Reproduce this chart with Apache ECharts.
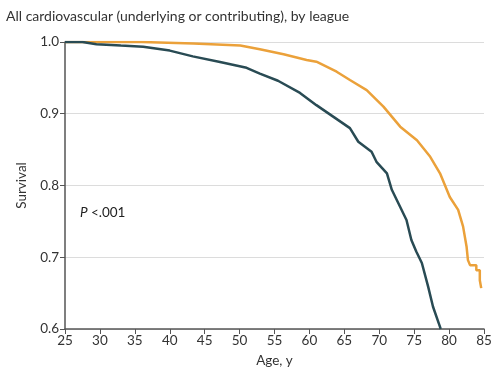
<!DOCTYPE html>
<html>
<head>
<meta charset="utf-8">
<script src="https://cdn.jsdelivr.net/npm/echarts@6/dist/echarts.min.js"></script>
<style>html,body{margin:0;padding:0;background:#fff;}#c{width:498px;height:382px;}</style>
</head>
<body>
<div id="c"></div>
<script>
const titleText = "All cardiovascular (underlying or contributing), by league";
const xTicks = [25,30,35,40,45,50,55,60,65,70,75,80,85];
const yTicks = [0.6,0.7,0.8,0.9,1.0];
const darkAges = [25,27.5,29.5,33,36.2,40,43.3,47.2,51,52.9,55.5,58.65,61,63.4,65.8,67,68.9,69.6,71.1,71.8,73,73.9,74.6,75.3,76.1,77,77.7,78.7,78.8];
const darkSurv = [1,1,0.997,0.995,0.9935,0.988,0.98,0.972,0.964,0.956,0.946,0.929,0.912,0.896,0.880,0.861,0.847,0.833,0.817,0.794,0.770,0.752,0.724,0.708,0.692,0.659,0.631,0.603,0.6];
const orangeAges = [25,36,43.4,50.1,52.9,56.3,59.6,61,63.9,65.8,68.2,70.6,73,75.4,77.3,78.7,80.1,81.3,82,82.5,82.7,83,83.9,83.9,84.4,84.4,84.6,84.7];
const orangeSurv = [1,1,0.998,0.995,0.990,0.983,0.975,0.9726,0.9586,0.947,0.933,0.910,0.882,0.863,0.840,0.817,0.784,0.766,0.743,0.715,0.696,0.689,0.689,0.682,0.682,0.668,0.657,0.657];

const font = "Lato";
const chart = echarts.init(document.getElementById('c'), null, {renderer:'canvas'});
chart.setOption({
  animation:false,
  title:{text:titleText,left:1,top:4,textStyle:{fontFamily:font,fontSize:14,fontWeight:'normal',color:'#333'}},
  grid:{left:65,right:14,top:42,bottom:53},
  xAxis:{type:'value',min:25,max:85,interval:5,
    name:'Age, y',nameLocation:'middle',nameGap:25,nameTextStyle:{fontFamily:font,fontSize:13.5,color:'#333'},
    axisLine:{lineStyle:{color:'#555',width:1.5}},axisTick:{show:true,length:5,lineStyle:{color:'#555'}},
    axisLabel:{fontFamily:font,fontSize:13.5,color:'#333',margin:5,formatter:v=>xTicks.includes(v)?String(v):''},
    splitLine:{show:false}},
  yAxis:{type:'value',min:0.6,max:1.0,interval:0.1,
    name:'Survival',nameLocation:'middle',nameGap:36,nameTextStyle:{fontFamily:font,fontSize:13.5,color:'#333'},
    axisLine:{show:true,lineStyle:{color:'#555',width:1.5}},axisTick:{show:true,length:5,lineStyle:{color:'#555'}},
    axisLabel:{fontFamily:font,fontSize:13.5,color:'#333',margin:6,formatter:v=>{const t=yTicks.find(y=>Math.abs(y-v)<1e-6);return t!==undefined?t.toFixed(1):'';}},
    splitLine:{show:true,lineStyle:{color:'#dcdcdc',width:1}}},
  graphic:[{type:'text',left:80,top:206,style:{rich:{i:{fontStyle:'italic',fontFamily:font,fontSize:13.5,fill:'#222'},n:{fontFamily:font,fontSize:13.5,fill:'#222'}},text:'{i|P} {n|<.001}'}}],
  series:[
    {type:'line',data:orangeAges.map((a,i)=>[a,orangeSurv[i]]),showSymbol:false,symbol:'none',lineStyle:{color:'#EBA13A',width:2.5},z:3,clip:true},
    {type:'line',data:darkAges.map((a,i)=>[a,darkSurv[i]]),showSymbol:false,symbol:'none',lineStyle:{color:'#294B54',width:2.5},z:4,clip:true}
  ]
});
</script>
</body>
</html>
